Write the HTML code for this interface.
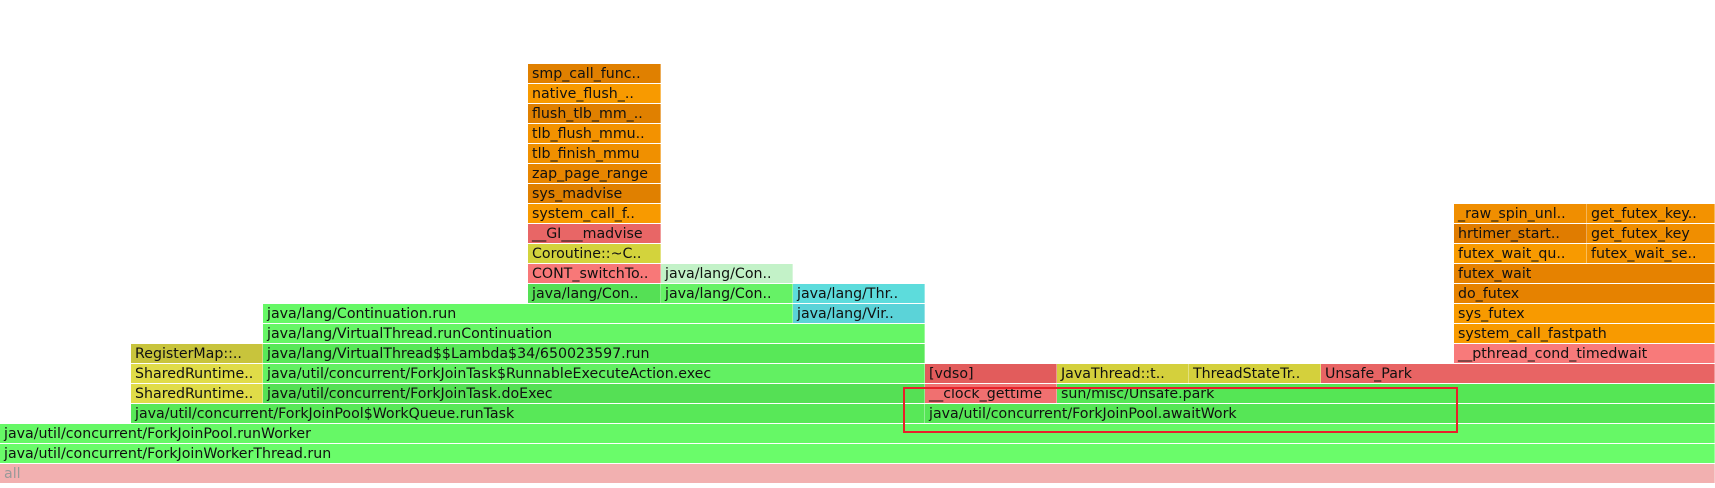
<!DOCTYPE html>
<html><head><meta charset="utf-8"><style>
body{margin:0;width:1715px;height:488px;background:#fff;position:relative;overflow:hidden;font-family:"DejaVu Sans","Liberation Sans",sans-serif;}
.f{position:absolute;height:19px;font-size:14.2px;line-height:20px;color:#111;padding-left:4px;box-sizing:border-box;white-space:nowrap;overflow:hidden;border-right:1px solid rgba(255,255,255,.35);}
.box{position:absolute;left:903px;top:387px;width:555px;height:46px;border:2px solid #e8202a;box-sizing:border-box;}
</style></head><body>
<div class="f" style="left:0;top:464px;width:1715px;background:#f2b0b0;color:#999">all</div>
<div class="f" style="left:0;top:444px;width:1715px;background:#6afc6a">java/util/concurrent/ForkJoinWorkerThread.run</div>
<div class="f" style="left:0;top:424px;width:1715px;background:#66f866">java/util/concurrent/ForkJoinPool.runWorker</div>
<div class="f" style="left:131px;top:404px;width:794px;background:#58e858">java/util/concurrent/ForkJoinPool$WorkQueue.runTask</div>
<div class="f" style="left:925px;top:404px;width:790px;background:#56e656">java/util/concurrent/ForkJoinPool.awaitWork</div>
<div class="f" style="left:131px;top:384px;width:132px;background:#e0dc48">SharedRuntime..</div>
<div class="f" style="left:263px;top:384px;width:662px;background:#55e055">java/util/concurrent/ForkJoinTask.doExec</div>
<div class="f" style="left:925px;top:384px;width:132px;background:#f07070">__clock_gettime</div>
<div class="f" style="left:1057px;top:384px;width:658px;background:#55e655">sun/misc/Unsafe.park</div>
<div class="f" style="left:131px;top:364px;width:132px;background:#e0dc48">SharedRuntime..</div>
<div class="f" style="left:263px;top:364px;width:662px;background:#62f062">java/util/concurrent/ForkJoinTask$RunnableExecuteAction.exec</div>
<div class="f" style="left:925px;top:364px;width:132px;background:#e25c5c">[vdso]</div>
<div class="f" style="left:1057px;top:364px;width:132px;background:#d4d03c">JavaThread::t..</div>
<div class="f" style="left:1189px;top:364px;width:132px;background:#d4d03c">ThreadStateTr..</div>
<div class="f" style="left:1321px;top:364px;width:394px;background:#e86464">Unsafe_Park</div>
<div class="f" style="left:131px;top:344px;width:132px;background:#c8c43c">RegisterMap::..</div>
<div class="f" style="left:263px;top:344px;width:662px;background:#58e858">java/lang/VirtualThread$$Lambda$34/650023597.run</div>
<div class="f" style="left:1454px;top:344px;width:261px;background:#f87a7a">__pthread_cond_timedwait</div>
<div class="f" style="left:263px;top:324px;width:662px;background:#66f666">java/lang/VirtualThread.runContinuation</div>
<div class="f" style="left:1454px;top:324px;width:261px;background:#f89a00">system_call_fastpath</div>
<div class="f" style="left:263px;top:304px;width:530px;background:#66f866">java/lang/Continuation.run</div>
<div class="f" style="left:793px;top:304px;width:132px;background:#5bd3d8">java/lang/Vir..</div>
<div class="f" style="left:1454px;top:304px;width:261px;background:#f89a00">sys_futex</div>
<div class="f" style="left:528px;top:284px;width:133px;background:#55e055">java/lang/Con..</div>
<div class="f" style="left:661px;top:284px;width:132px;background:#66f266">java/lang/Con..</div>
<div class="f" style="left:793px;top:284px;width:132px;background:#5ddcdc">java/lang/Thr..</div>
<div class="f" style="left:1454px;top:284px;width:261px;background:#e68200">do_futex</div>
<div class="f" style="left:528px;top:264px;width:133px;background:#f87878">CONT_switchTo..</div>
<div class="f" style="left:661px;top:264px;width:132px;background:#c3f2c8">java/lang/Con..</div>
<div class="f" style="left:1454px;top:264px;width:261px;background:#e68200">futex_wait</div>
<div class="f" style="left:528px;top:244px;width:133px;background:#d3d33c">Coroutine::~C..</div>
<div class="f" style="left:1454px;top:244px;width:133px;background:#f89a00">futex_wait_qu..</div>
<div class="f" style="left:1587px;top:244px;width:128px;background:#f39200">futex_wait_se..</div>
<div class="f" style="left:528px;top:224px;width:133px;background:#e86666">__GI___madvise</div>
<div class="f" style="left:1454px;top:224px;width:133px;background:#e07c00">hrtimer_start..</div>
<div class="f" style="left:1587px;top:224px;width:128px;background:#f08e00">get_futex_key</div>
<div class="f" style="left:528px;top:204px;width:133px;background:#f89a00">system_call_f..</div>
<div class="f" style="left:1454px;top:204px;width:133px;background:#f08e00">_raw_spin_unl..</div>
<div class="f" style="left:1587px;top:204px;width:128px;background:#f39200">get_futex_key..</div>
<div class="f" style="left:528px;top:184px;width:133px;background:#e08000">sys_madvise</div>
<div class="f" style="left:528px;top:164px;width:133px;background:#e88600">zap_page_range</div>
<div class="f" style="left:528px;top:144px;width:133px;background:#f09000">tlb_finish_mmu</div>
<div class="f" style="left:528px;top:124px;width:133px;background:#f39200">tlb_flush_mmu..</div>
<div class="f" style="left:528px;top:104px;width:133px;background:#e08000">flush_tlb_mm_..</div>
<div class="f" style="left:528px;top:84px;width:133px;background:#f89a00">native_flush_..</div>
<div class="f" style="left:528px;top:64px;width:133px;background:#e08000">smp_call_func..</div>
<div class="box"></div>
</body></html>
